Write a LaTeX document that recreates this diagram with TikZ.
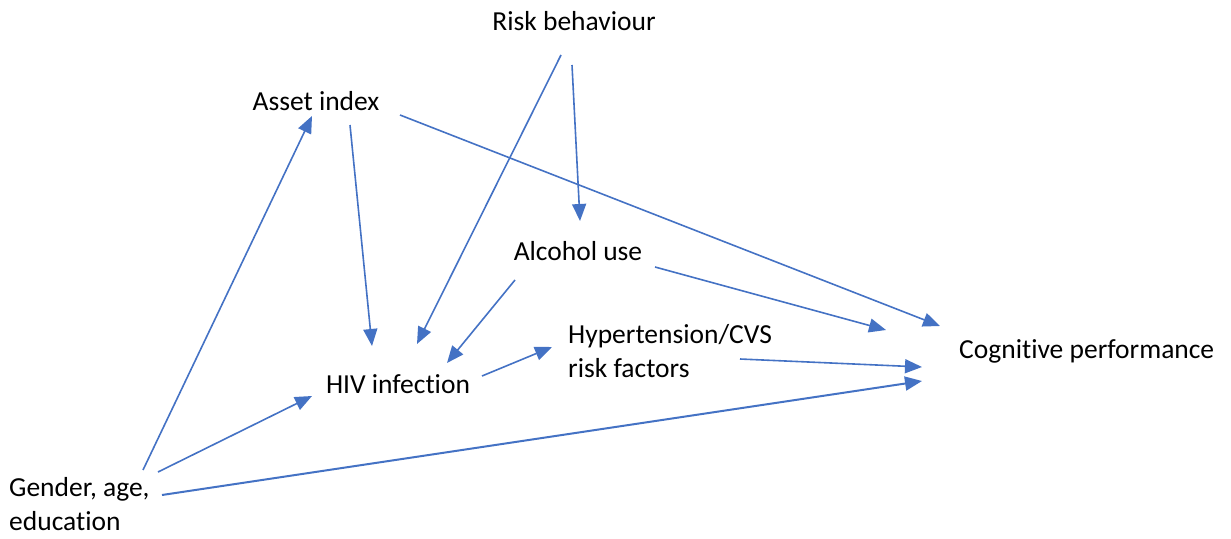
\documentclass[tikz,border=0pt]{standalone}
\usepackage{fontspec}
\setmainfont[Ligatures={NoCommon}]{Carlito}
\usetikzlibrary{arrows.meta}
\definecolor{arrblue}{HTML}{4472C4}
\begin{document}
\begin{tikzpicture}[x=1pt,y=-1pt,
  lbl/.style={font=\fontsize{27.5}{34}\selectfont, inner sep=0pt, align=left},
  conn/.style={draw=arrblue, line width=1.6pt, -{Triangle[length=17pt,width=14pt]}}]
\useasboundingbox (0,0) rectangle (1231,538);
% labels
\node[lbl] (risk) at (574,21) {Risk behaviour};
\node[lbl] (asset) at (316,101) {Asset index};
\node[lbl] (alc) at (578,251) {Alcohol use};
\node[lbl, anchor=west] (hyp) at (568,351) {Hypertension/CVS\\risk factors};
\node[lbl] (hiv) at (398,384) {HIV infection};
\node[lbl, anchor=west] (cog) at (959,351) {Cognitive performance};
\node[lbl, anchor=west] (gen) at (9,504) {Gender, age,\\education};
% connector endpoints
\coordinate (g1) at (143,470); \coordinate (a1) at (312,116);
\coordinate (a2) at (350,125); \coordinate (h1) at (372,346);
\coordinate (a3) at (400,115); \coordinate (c1) at (940,326);
\coordinate (r1) at (561,55);  \coordinate (h2) at (417,344);
\coordinate (r2) at (572,65);  \coordinate (l1) at (580,221);
\coordinate (l2) at (515,280); \coordinate (h3) at (447,363);
\coordinate (l3) at (655,267); \coordinate (c2) at (886,330);
\coordinate (h4) at (482,376); \coordinate (p1) at (552,347);
\coordinate (p2) at (740,359); \coordinate (c3) at (922,367);
\coordinate (g2) at (158,472); \coordinate (h5) at (312,396);
\coordinate (g3) at (162,495); \coordinate (c4) at (922,381);
% connectors
\draw[conn] (g1) -- (a1);
\draw[conn] (a2) -- (h1);
\draw[conn] (a3) -- (c1);
\draw[conn] (r1) -- (h2);
\draw[conn] (r2) -- (l1);
\draw[conn] (l2) -- (h3);
\draw[conn] (l3) -- (c2);
\draw[conn] (h4) -- (p1);
\draw[conn] (p2) -- (c3);
\draw[conn] (g2) -- (h5);
\draw[conn, line width=2pt] (g3) -- (c4);
\end{tikzpicture}
\end{document}
